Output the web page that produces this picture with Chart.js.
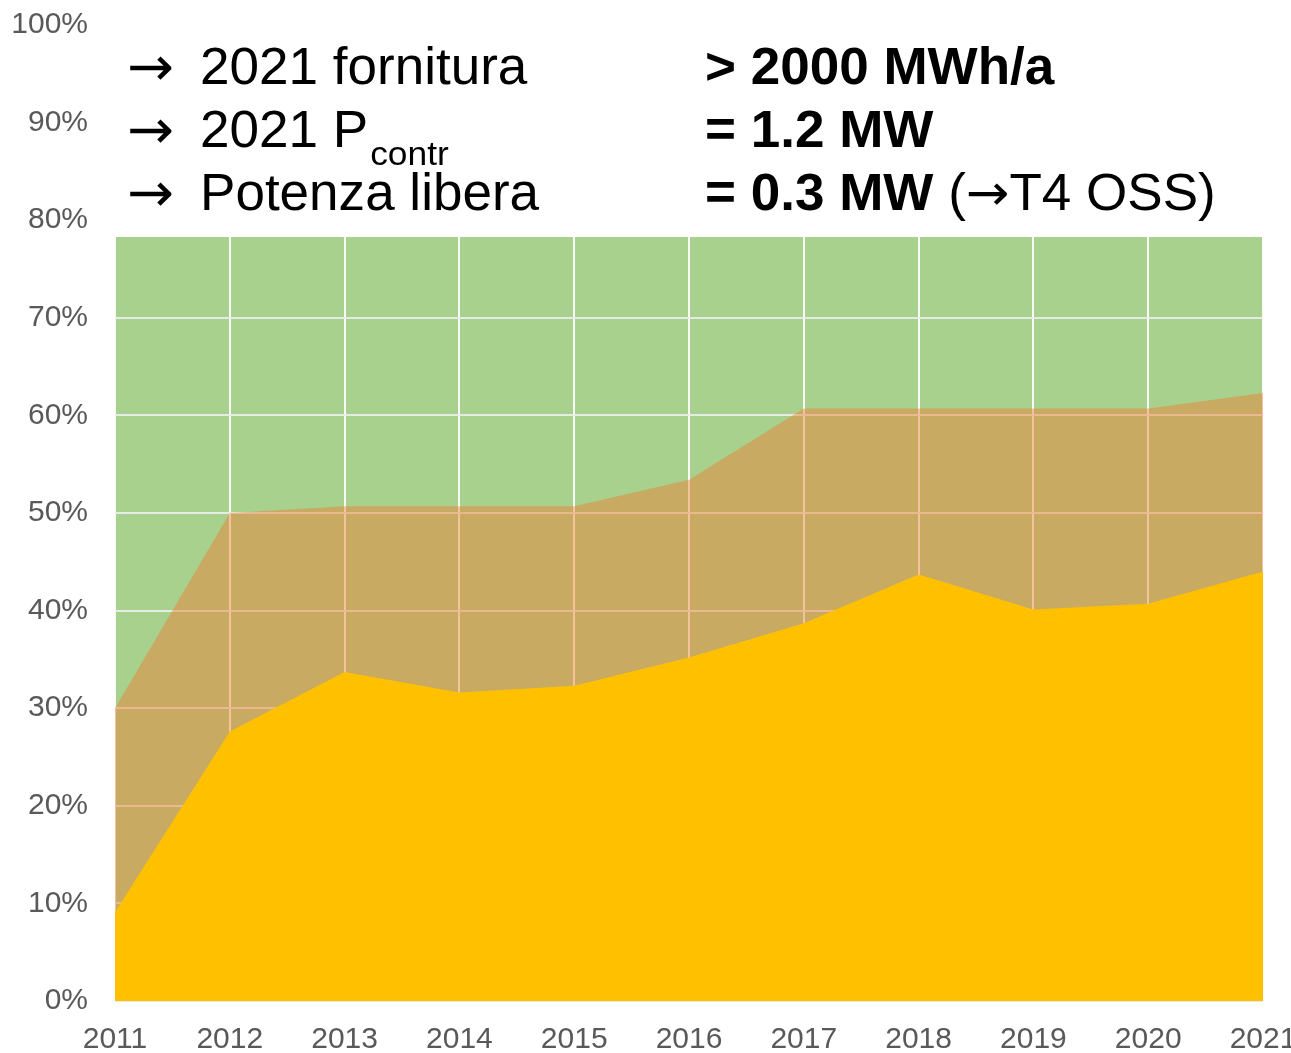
<!DOCTYPE html>
<html>
<head>
<meta charset="utf-8">
<script src="https://cdn.jsdelivr.net/npm/chart.js@4/dist/chart.umd.min.js"></script>
<style>
  html, body { margin: 0; padding: 0; background: #fff; overflow: hidden; }
  #wrap { position: relative; width: 1296px; height: 1053px; }
</style>
</head>
<body>
<div id="wrap"><canvas id="areaChart"></canvas></div>
<script>
const years = ["2011", "2012", "2013", "2014", "2015", "2016", "2017", "2018", "2019", "2020", "2021"];
const fornitura = [9.1, 27.6, 33.7, 31.6, 32.3, 35.2, 38.7, 43.7, 40.1, 40.7, 44.0];
const potenzaContr = [30.0, 50.0, 50.7, 50.7, 50.7, 53.4, 60.7, 60.7, 60.7, 60.7, 62.3];
const potenzaTotale = [100, 100, 100, 100, 100, 100, 100, 100, 100, 100, 100];

// each piece: [text, bold, arrow glyph]
const leftLines = [
    ["2021 fornitura", ""],
    ["2021 P", "contr"],
    ["Potenza libera", ""]
];
const rightLines = [
    [["> 2000 MWh/a", true, false]],
    [["= 1.2 MW", true, false]],
    [["= 0.3 MW", true, false], [" (", false, false], ["\u2192", false, true], ["T4 OSS)", false, false]]
];

const FONT = "'Liberation Sans', Arial, sans-serif";
const ARROW_FONT = "'DejaVu Sans', sans-serif";

// grid goes on top of the green area but under the other two
const gridOverGreen = {
    id: "gridOverGreen",
    afterDatasetDraw(chart, args) {
        if (args.index === 2) {
            chart.scales.x.drawGrid(chart.chartArea);
            chart.scales.y.drawGrid(chart.chartArea);
        }
    }
};

const textBox = {
    id: "textBox",
    afterDraw(chart) {
        const ctx = chart.ctx;
        ctx.save();
        ctx.fillStyle = "#ffffff";
        ctx.fillRect(chart.chartArea.left - 3, 0, chart.width, 237);
        ctx.fillStyle = "#000000";
        ctx.textBaseline = "alphabetic";
        const baselines = [84, 147, 210];
        const sx = 1.04;
        baselines.forEach((y, i) => {
            ctx.save();
            ctx.scale(sx, 1);
            ctx.font = "54px " + ARROW_FONT;
            ctx.fillText("\u2192", 127 / sx, y + 1);
            ctx.font = "51px " + FONT;
            ctx.fillText(leftLines[i][0], 200 / sx, y);
            if (leftLines[i][1]) {
                const w = ctx.measureText(leftLines[i][0]).width;
                ctx.font = "34px " + FONT;
                ctx.fillText(leftLines[i][1], 200 / sx + w + 2, y + 18);
            }
            let x = 705 / sx;
            rightLines[i].forEach(([txt, bold, arrow]) => {
                ctx.font = arrow ? "50px " + ARROW_FONT : (bold ? "bold " : "") + "51px " + FONT;
                ctx.fillText(txt, x, y);
                x += ctx.measureText(txt).width;
            });
            ctx.restore();
        });
        ctx.restore();
    }
};

const ctx = document.getElementById("areaChart").getContext("2d");

new Chart(ctx, {
    type: "line",
    data: {
        labels: years,
        datasets: [
            {
                label: "Fornitura",
                data: fornitura,
                backgroundColor: "#FFC000",
                borderWidth: 0,
                pointRadius: 0,
                fill: "origin"
            },
            {
                label: "P contr",
                data: potenzaContr,
                backgroundColor: "rgba(237, 125, 49, 0.46)",
                borderWidth: 0,
                pointRadius: 0,
                fill: "origin"
            },
            {
                label: "Potenza",
                data: potenzaTotale,
                backgroundColor: "#A9D18E",
                borderWidth: 0,
                pointRadius: 0,
                fill: "origin"
            }
        ]
    },
    options: {
        responsive: true,
        maintainAspectRatio: false,
        animation: false,
        layout: { padding: { top: 25, left: 0, right: 0, bottom: 0 } },
        plugins: {
            legend: { display: false },
            tooltip: { enabled: false }
        },
        elements: { line: { tension: 0 } },
        scales: {
            x: {
                offset: false,
                grid: { color: "rgba(255,255,255,0.95)", lineWidth: 2, drawTicks: false },
                border: { display: false },
                ticks: {
                    color: "#595959",
                    font: { family: FONT, size: 30 },
                    padding: 21,
                    maxRotation: 0,
                    autoSkip: false
                },
                afterFit(scale) {
                    scale.height = 52;
                    scale.paddingLeft = 33;
                    scale.paddingRight = 33;
                }
            },
            y: {
                min: 0,
                max: 100,
                grid: { color: "rgba(235,235,235,0.95)", lineWidth: 2, drawTicks: false },
                border: { display: false },
                ticks: {
                    stepSize: 10,
                    color: "#595959",
                    font: { family: FONT, size: 30 },
                    padding: 27,
                    callback: v => v + "%"
                },
                afterFit(scale) {
                    scale.width = 115;
                    scale.paddingTop = 17;
                    scale.paddingBottom = 17;
                }
            }
        }
    },
    plugins: [gridOverGreen, textBox]
});
</script>
</body>
</html>
